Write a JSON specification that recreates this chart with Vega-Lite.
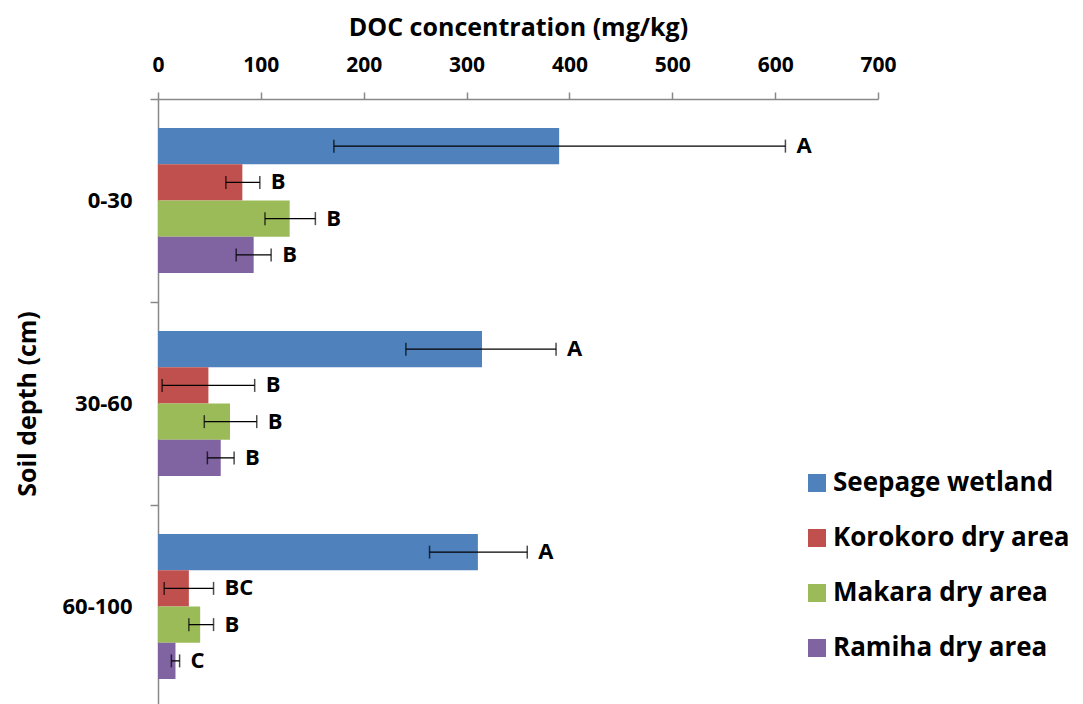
{
  "$schema": "https://vega.github.io/schema/vega-lite/v6.json",
  "autosize": "none",
  "padding": {"left": 158, "top": 99, "right": 205, "bottom": 0},
  "width": 720,
  "height": 609,
  "background": "white",
  "config": {"view": {"stroke": null}, "font": "Open Sans"},
  "data": {"values": [
    {"depth": "0-30", "site": "Seepage wetland", "mean": 390, "lo": 171, "hi": 610, "letter": "A"},
    {"depth": "0-30", "site": "Korokoro dry area", "mean": 82, "lo": 66, "hi": 99, "letter": "B"},
    {"depth": "0-30", "site": "Makara dry area", "mean": 128, "lo": 104, "hi": 153, "letter": "B"},
    {"depth": "0-30", "site": "Ramiha dry area", "mean": 93, "lo": 76, "hi": 110, "letter": "B"},
    {"depth": "30-60", "site": "Seepage wetland", "mean": 315, "lo": 241, "hi": 387, "letter": "A"},
    {"depth": "30-60", "site": "Korokoro dry area", "mean": 49, "lo": 4, "hi": 94, "letter": "B"},
    {"depth": "30-60", "site": "Makara dry area", "mean": 70, "lo": 45, "hi": 96, "letter": "B"},
    {"depth": "30-60", "site": "Ramiha dry area", "mean": 61, "lo": 48, "hi": 74, "letter": "B"},
    {"depth": "60-100", "site": "Seepage wetland", "mean": 311, "lo": 264, "hi": 359, "letter": "A"},
    {"depth": "60-100", "site": "Korokoro dry area", "mean": 30, "lo": 6, "hi": 54, "letter": "BC"},
    {"depth": "60-100", "site": "Makara dry area", "mean": 41, "lo": 30, "hi": 54, "letter": "B"},
    {"depth": "60-100", "site": "Ramiha dry area", "mean": 17, "lo": 13, "hi": 21, "letter": "C"}
  ]},
  "encoding": {
    "y": {
      "field": "depth", "type": "nominal", "sort": ["0-30", "30-60", "60-100"],
      "scale": {"paddingInner": 0, "paddingOuter": 0},
      "axis": {
        "title": "Soil depth (cm)", "titleFontSize": 25, "titleFontWeight": "bold", "titleColor": "black", "titlePadding": 22,
        "labelFontSize": 22, "labelFontWeight": "bold", "labelColor": "black", "labelPadding": 18,
        "tickBand": "extent", "tickSize": 8, "tickColor": "#898989", "domainColor": "#898989", "domainWidth": 1.5, "tickWidth": 1.5
      }
    },
    "yOffset": {
      "field": "site", "type": "nominal",
      "sort": ["Seepage wetland", "Korokoro dry area", "Makara dry area", "Ramiha dry area"],
      "scale": {"paddingInner": 0, "paddingOuter": 0.8}
    }
  },
  "layer": [
    {
      "mark": {"type": "bar"},
      "encoding": {
        "x": {
          "field": "mean", "type": "quantitative",
          "scale": {"domain": [0, 700], "nice": false},
          "axis": {
            "orient": "top", "values": [0, 100, 200, 300, 400, 500, 600, 700], "grid": false, "labelFlush": false,
            "title": "DOC concentration (mg/kg)", "titleFontSize": 25, "titleFontWeight": "bold", "titleColor": "black", "titlePadding": 14,
            "labelFontSize": 21, "labelFontWeight": "bold", "labelColor": "black", "labelPadding": 17,
            "tickSize": 7, "tickColor": "#898989", "domainColor": "#898989", "domainWidth": 1.5, "tickWidth": 1.5
          }
        },
        "color": {
          "field": "site", "type": "nominal",
          "sort": ["Seepage wetland", "Korokoro dry area", "Makara dry area", "Ramiha dry area"],
          "scale": {"range": ["#4F81BD", "#C0504D", "#9BBB59", "#8064A2"]},
          "legend": {
            "title": null, "orient": "none", "legendX": 646, "legendY": 371, "padding": 0,
            "symbolType": "square", "symbolSize": 324, "symbolStrokeWidth": 0,
            "labelFontSize": 26, "labelFontWeight": "bold", "labelColor": "black", "labelOffset": 3,
            "rowPadding": 29, "labelLimit": 300
          }
        }
      }
    },
    {
      "mark": {"type": "rule", "color": "black", "strokeWidth": 1.3},
      "encoding": {"x": {"field": "lo", "type": "quantitative"}, "x2": {"field": "hi"}}
    },
    {
      "mark": {"type": "tick", "color": "black", "thickness": 1.5, "size": 13},
      "encoding": {"x": {"field": "lo", "type": "quantitative"}}
    },
    {
      "mark": {"type": "tick", "color": "black", "thickness": 1.5, "size": 13},
      "encoding": {"x": {"field": "hi", "type": "quantitative"}}
    },
    {
      "mark": {"type": "text", "align": "left", "baseline": "middle", "dx": 11, "fontSize": 22, "fontWeight": "bold", "color": "black"},
      "encoding": {"x": {"field": "hi", "type": "quantitative"}, "text": {"field": "letter"}}
    }
  ]
}
